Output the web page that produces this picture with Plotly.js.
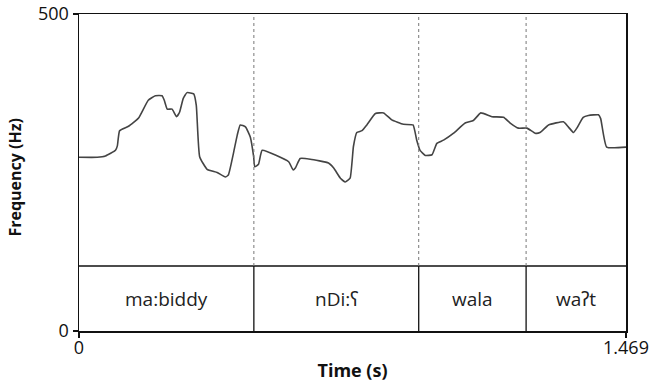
<!DOCTYPE html>
<html><head><meta charset="utf-8">
<script src="https://cdn.plot.ly/plotly-3.0.1.min.js"></script>
<style>html,body{margin:0;padding:0;background:#fff}#plot{width:652px;height:388px}</style>
</head><body><div id="plot"></div>
<script>
const times = [0.000,0.049,0.071,0.098,0.103,0.109,0.133,0.160,0.186,0.205,0.223,0.229,0.237,0.250,0.262,0.270,0.280,0.290,0.308,0.315,0.324,0.344,0.371,0.393,0.401,0.415,0.425,0.433,0.447,0.460,0.469,0.472,0.482,0.492,0.563,0.575,0.581,0.594,0.621,0.670,0.684,0.702,0.715,0.728,0.737,0.746,0.760,0.773,0.796,0.818,0.840,0.871,0.897,0.907,0.916,0.930,0.948,0.961,0.979,1.006,1.037,1.059,1.079,1.109,1.140,1.158,1.180,1.203,1.225,1.238,1.261,1.301,1.314,1.328,1.337,1.354,1.368,1.395,1.401,1.417,1.469];
const freqs = [274,274,276,285,292,316,323,336,364,371,371,364,350,350,338,345,367,376,374,356,275,255,250,243,246,281,309,325,322,306,275,259,263,285,267,254,257,272,271,265,257,241,235,241,291,313,316,325,343,344,333,326,325,301,285,277,278,296,301,312,328,332,344,338,337,328,320,320,312,313,325,330,322,313,320,337,340,341,335,290,290];
const boundaries = [0.4696, 0.9123, 1.2007];
const segStarts = [0, 0.4696, 0.9123, 1.2007];
const segEnds = [0.4696, 0.9123, 1.2007, 1.469];
const labels = ["ma:biddy", "nDi:ʕ", "wala", "waʔt"];
const yTicks = [0, 500];
const xTicks = [0, 1.469];
const xTickText = ["0", "1.469"];

const tierTop = 0.205; // paper fraction of the text tier height
const font = "Open Sans, Noto Sans, sans-serif";

const shapes = [];
shapes.push({type:'line', xref:'paper', yref:'paper', x0:0, x1:1, y0:tierTop, y1:tierTop, line:{color:'#111', width:1.3}});
boundaries.forEach(b => {
  shapes.push({type:'line', xref:'x', yref:'paper', x0:b, x1:b, y0:tierTop, y1:1, line:{color:'#777', width:1, dash:'dot'}});
  shapes.push({type:'line', xref:'x', yref:'paper', x0:b, x1:b, y0:0, y1:tierTop, line:{color:'#111', width:1.3}});
});
const annotations = labels.map((l,i) => ({
  x:(segStarts[i]+segEnds[i])/2, y:tierTop/2, xref:'x', yref:'paper', yanchor:'middle',
  text:l, showarrow:false, font:{family:font, size:19, color:'#222'}
}));
annotations.push({
  x:-0.1178, y:0.4826, xref:'paper', yref:'paper', xanchor:'center', yanchor:'middle',
  text:'<b>Frequency (Hz)</b>', textangle:-90, showarrow:false,
  font:{family:font, size:16, color:'#111'}
});

Plotly.newPlot('plot', [{
  x: times, y: freqs, type:'scatter', mode:'lines',
  line:{color:'#444', width:1.6, shape:'spline', smoothing:0.4},
  hoverinfo:'none'
}], {
  width:652, height:388,
  margin:{l:78.5, r:26, t:14, b:57},
  paper_bgcolor:'#fff', plot_bgcolor:'#fff',
  showlegend:false,
  font:{family:font, color:'#111'},
  xaxis:{range:[0,1.469], tickvals:xTicks, ticktext:xTickText, ticks:'outside', ticklen:5, tickwidth:1.3, tickcolor:'#111',
    showgrid:false, zeroline:false, showline:true, mirror:true, linecolor:'#111', linewidth:1.5,
    tickfont:{family:font, size:18, color:'#111'}, automargin:false, ticklabelstandoff:-5,
    title:{text:'<b>Time (s)</b>', font:{family:font, size:18, color:'#111'}, standoff:6}},
  yaxis:{range:[0,500], tickvals:yTicks, ticks:'outside', ticklen:5, tickwidth:1.3, tickcolor:'#111',
    showgrid:false, zeroline:false, showline:true, mirror:true, linecolor:'#111', linewidth:1.5,
    tickfont:{family:font, size:18, color:'#111'}, automargin:false},
  shapes: shapes,
  annotations: annotations
}, {staticPlot:true});
</script></body></html>
